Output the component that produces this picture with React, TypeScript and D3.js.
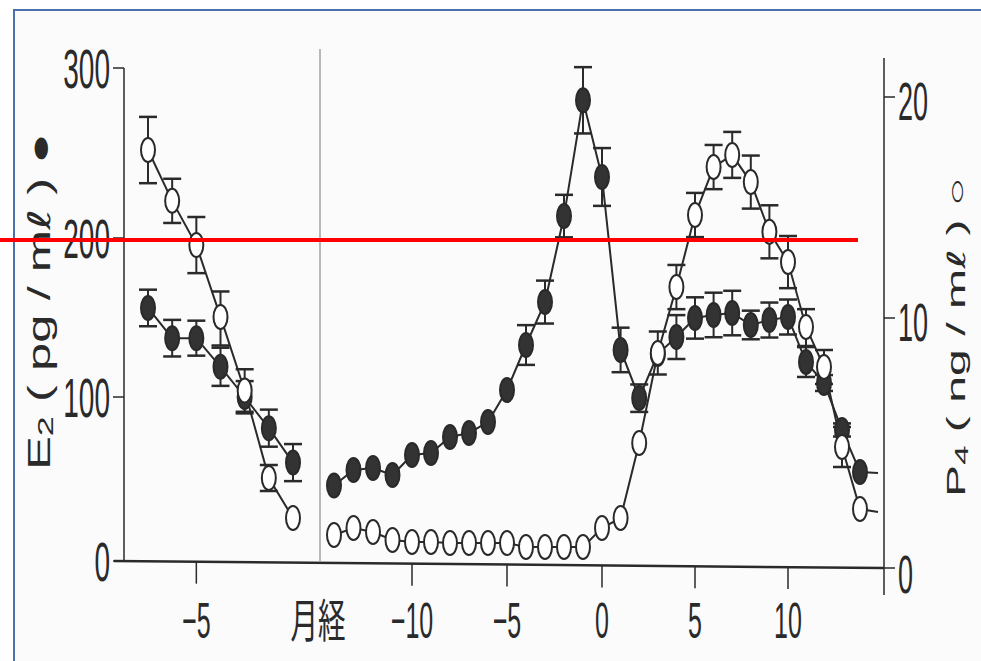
import React from 'react';
import * as d3 from 'd3';

const W = 981;
const H = 661;

// previous cycle (left block), days before menses
const prevDays = [-7, -6, -5, -4, -3, -2, -1];
const prevE2 = [156, 137, 137, 119, 100, 81, 60];
const prevE2se = [11.5, 11.5, 11, 12, 10, 11.3, 11.3];
const prevP4 = [17.6, 15.3, 13.3, 10.05, 7.1, 3.6, 2.0];
const prevP4se = [1.5, 1.0, 1.27, 1.15, 0.85, 0.52, 0];

// cycle around ovulation (right block)
const cycleDays = [-14, -13, -12, -11, -10, -9, -8, -7, -6, -5, -4, -3, -2, -1, 0,
  1, 2, 3, 4, 5, 6, 7, 8, 9, 10, 11, 12, 13, 14, 15];
const cycleE2 = [46, 55.5, 56.7, 52.4, 64.6, 65.9, 75.6, 78, 84.8, 104.4, 132.7, 159.7, 212.9, 281, 235.9,
  129.6, 99.4, 127, 137.7, 149.7, 151.6, 152.8, 145.3, 148.4, 150.3, 122, 108.8, 79.9, 54.3, 53.7];
const cycleE2se = [0, 0, 0, 0, 0, 0, 0, 0, 0, 0, 12.5, 13.5, 12.5, 19.5, 17,
  14, 8.5, 0, 13.8, 13, 14, 14, 9, 11, 11, 9.4, 5, 4, 0, 0];
const cycleP4 = [1.32, 1.6, 1.44, 1.12, 1.04, 1.04, 1.0, 1.0, 1.0, 1.0, 0.84, 0.84, 0.84, 0.84, 1.6,
  2.0, 5.0, 8.6, 11.4, 14.66, 16.83, 17.38, 16.15, 13.9, 12.53, 9.64, 8.04, 4.84, 2.36, 2.24];
const cycleP4se = [0, 0, 0, 0, 0, 0, 0, 0, 0, 0, 0, 0, 0, 0, 0,
  0, 0, 0.86, 1.0, 1.0, 1.0, 1.04, 1.2, 1.2, 1.18, 0.76, 0.68, 0.8, 0, 0];
const lastMarkerDay = 14;

const e2Ticks = [0, 100, 200, 300];
const p4Ticks = [0, 10, 20];
const prevTicks = [-5];
const cycleTicks = [-10, -5, 0, 5, 10];

const INK = '#2a2a2a';
const FONT = '"Liberation Sans", Arial, sans-serif';

// scales (the scan is slightly uneven, so the axes are piecewise)
const xPrev = d3.scaleLinear().domain([-7, -1]).range([148, 293]);
const xCycle = d3.scaleLinear().domain([-14, -10, 0, 10, 14]).range([334, 412, 602, 788, 860]);
const yE2 = d3.scaleLinear().domain([0, 100, 200, 300]).range([561, 397, 238, 68]);
const yP4 = d3.scaleLinear().domain([0, 10, 20]).range([568, 318, 97]);

const leftX = 124;
const rightX = 884;
const baseY = (x: number) => 561 + ((x - leftX) / (rightX - leftX)) * 7;

type Pt = { x: number; y: number; lo: number; hi: number; se: number };

function series(days: number[], vals: number[], se: number[], xs: any, ys: any): Pt[] {
  return days.map((d, i) => ({
    x: xs(d), y: ys(vals[i]), lo: ys(vals[i] - se[i]), hi: ys(vals[i] + se[i]), se: se[i], d,
  } as any));
}

const line = d3.line<Pt>().x(p => p.x).y(p => p.y);

function Bars({ pts }: { pts: Pt[] }) {
  return (
    <g stroke={INK} strokeWidth={2}>
      {pts.filter(p => p.se > 0).map((p, i) => (
        <g key={i}>
          <line x1={p.x} x2={p.x} y1={p.hi} y2={p.lo} />
          <line x1={p.x - 9} x2={p.x + 9} y1={p.hi} y2={p.hi} strokeWidth={2.5} />
          <line x1={p.x - 9} x2={p.x + 9} y1={p.lo} y2={p.lo} strokeWidth={2.5} />
        </g>
      ))}
    </g>
  );
}

function Marks({ pts, filled }: { pts: Pt[]; filled: boolean }) {
  return (
    <g>
      {pts.filter((p: any) => p.d <= lastMarkerDay).map((p, i) => (
        <ellipse key={i} cx={p.x} cy={p.y} rx={7} ry={12}
          fill={filled ? '#333' : '#fff'} stroke={INK} strokeWidth={2} />
      ))}
    </g>
  );
}

function Num({ x, y, text, size, anchor }: { x: number; y: number; text: string; size: number; anchor: string }) {
  return (
    <text transform={`translate(${x},${y + size * 0.358}) scale(0.5,1)`} fontSize={size}
      fontFamily={FONT} textAnchor={anchor} fill={INK}>{text}</text>
  );
}

export default function App() {
  const pE2 = series(prevDays, prevE2, prevE2se, xPrev, yE2);
  const pP4 = series(prevDays, prevP4, prevP4se, xPrev, yP4);
  const cE2 = series(cycleDays, cycleE2, cycleE2se, xCycle, yE2);
  const cP4 = series(cycleDays, cycleP4, cycleP4se, xCycle, yP4);

  return (
    <svg width={W} height={H} style={{ position: 'absolute', left: 0, top: 0 }}>
      <defs>
        <clipPath id="plot">
          <rect x={0} y={0} width={rightX - 1} height={H} />
        </clipPath>
      </defs>
      <rect width={W} height={H} fill="#fff" />
      <rect x={14} y={10} width={W} height={H} fill="#fbfbfc" />
      {/* frame of the scan */}
      <path d={`M14,${H}V10H${W}`} fill="none" stroke="#4a70ad" strokeWidth={2} />

      {/* axes */}
      <g stroke={INK} fill="none">
        <line x1={leftX} x2={leftX} y1={yE2(300)} y2={561} strokeWidth={1.5} />
        <line x1={rightX} x2={rightX} y1={58} y2={595} strokeWidth={1.5} />
        <line x1={114} y1={561} x2={rightX} y2={568} strokeWidth={2.5} />
        <line x1={320} x2={320} y1={49} y2={561} strokeWidth={1} stroke="#777" />
        {e2Ticks.map(t => <line key={t} x1={leftX - 11} x2={leftX} y1={yE2(t)} y2={yE2(t)} strokeWidth={1.5} />)}
        {p4Ticks.map(t => <line key={t} x1={rightX} x2={rightX + 11} y1={yP4(t)} y2={yP4(t)} strokeWidth={1.5} />)}
        {prevTicks.map(t => <line key={t} x1={xPrev(t)} x2={xPrev(t)} y1={baseY(xPrev(t))} y2={baseY(xPrev(t)) + 22} strokeWidth={1.5} />)}
        {cycleTicks.map(t => <line key={t} x1={xCycle(t)} x2={xCycle(t)} y1={baseY(xCycle(t))} y2={baseY(xCycle(t)) + 22} strokeWidth={1.5} />)}
      </g>

      {e2Ticks.map(t => <Num key={t} x={110} y={yE2(t)} text={String(t)} size={56} anchor="end" />)}
      {p4Ticks.map(t => <Num key={t} x={898} y={yP4(t) + (t === 0 ? 6 : 4)} text={String(t)} size={54} anchor="start" />)}
      {prevTicks.map(t => <Num key={t} x={xPrev(t)} y={620} text={`−${Math.abs(t)}`} size={50} anchor="middle" />)}
      {cycleTicks.map(t => <Num key={t} x={xCycle(t)} y={620} text={t < 0 ? `−${Math.abs(t)}` : String(t)} size={50} anchor="middle" />)}
      <text transform="translate(318,637) scale(0.6,1)" fontSize={46} textAnchor="middle"
        fontFamily='"Noto Sans CJK JP", sans-serif' fill={INK}>月経</text>

      {/* axis titles */}
      <text transform="translate(50,470) rotate(-90)" fontSize={31} fontFamily={FONT} fill={INK}
        textLength={337} lengthAdjust="spacingAndGlyphs">
        E<tspan fontSize={22} dy={3}>2</tspan><tspan dy={-3}> ( pg / m</tspan><tspan fontFamily='"DejaVu Sans", sans-serif'>ℓ</tspan><tspan> ) ●</tspan>
      </text>
      <text transform="translate(965,497) rotate(-90)" fontSize={25} fontFamily={FONT} fill={INK}
        textLength={320} lengthAdjust="spacingAndGlyphs">
        P<tspan fontSize={18} dy={3}>4</tspan><tspan dy={-3}> ( ng / m</tspan><tspan fontFamily='"DejaVu Sans", sans-serif'>ℓ</tspan><tspan> ) ○</tspan>
      </text>

      {/* data */}
      <g clipPath="url(#plot)">
        <g fill="none" stroke={INK} strokeWidth={2}>
          <path d={line(pE2) || ''} />
          <path d={line(pP4) || ''} />
          <path d={line(cE2) || ''} />
          <path d={line(cP4) || ''} />
        </g>
        <Bars pts={pE2} />
        <Bars pts={pP4} />
        <Bars pts={cE2} />
        <Bars pts={cP4} />
        <Marks pts={pE2} filled />
        <Marks pts={cE2} filled />
        <Marks pts={pP4} filled={false} />
        <Marks pts={cP4} filled={false} />
      </g>

      {/* red annotation line on the scan */}
      <line x1={0} x2={858} y1={240} y2={240} stroke="#f00" strokeWidth={4} />
    </svg>
  );
}
